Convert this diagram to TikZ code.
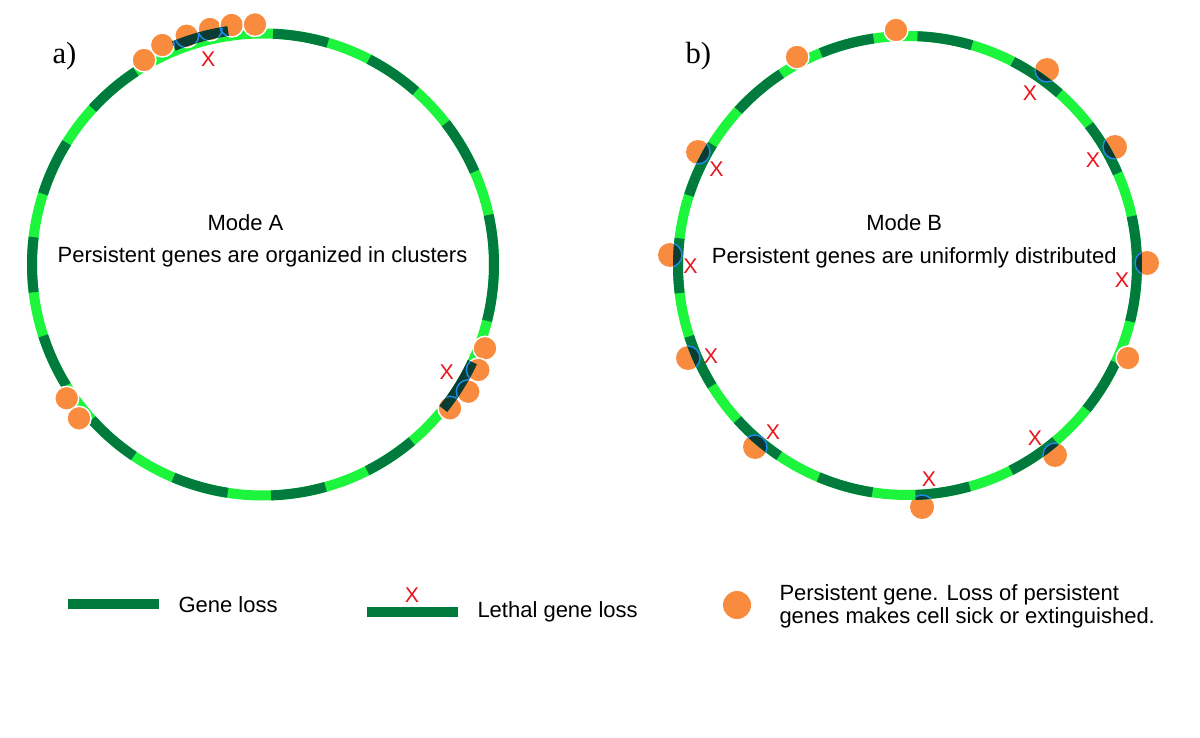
\documentclass[tikz,border=0pt]{standalone}
\usepackage{fontspec}
\setmainfont{Liberation Serif}
\setsansfont{Liberation Sans}
\usetikzlibrary{calc}

\definecolor{ringlight}{RGB}{28,245,60}
\definecolor{lossgreen}{RGB}{0,122,61}
\definecolor{geneorange}{RGB}{249,139,62}
\definecolor{lethaldark}{RGB}{10,60,50}
\definecolor{geneblue}{RGB}{30,140,230}
\definecolor{xred}{RGB}{232,20,28}

\tikzset{every picture/.style={line width=0.75pt}}
\tikzset{
  ringbase/.style={color=ringlight, line width=7.5},
  lossarc/.style={color=lossgreen, line width=7.5},
  lethalbar/.style={color=lethaldark, line width=7.5},
  genetop/.style={draw=white, fill=geneorange, line width=1.1},
  geneunder/.style={fill=geneorange},
  geneoverlap/.style={fill=lethaldark, draw=geneblue, line width=1.1},
  geneedge/.style={draw=geneblue, line width=1.1},
  txt/.style={font=\sffamily\fontsize{16.5}{19.8}\selectfont, inner sep=0pt},
  xmark/.style={text=xred, font=\sffamily\fontsize{16}{19}\selectfont, inner sep=0pt},
}

\begin{document}
\begin{tikzpicture}[x=0.75pt,y=0.75pt,yscale=-1,xscale=1]
%set diagram left start at 0, and has height of 738
\useasboundingbox (0,0) rectangle (1200,738);

\coordinate (ca) at (263,264.5);
\coordinate (cb) at (907.5,265.5);

%%%%%%%%%%%%%%%%%% a) Mode A
%Ring [id:ringA]
\draw [ringbase] (ca) circle (231);
%Arc (gene loss)
\draw [lossarc] (ca) ++(-73.7:231) arc [start angle=-73.7, end angle=-87.5, radius=231];
\draw [lossarc] (ca) ++(-48.6:231) arc [start angle=-48.6, end angle=-62.7, radius=231];
\draw [lossarc] (ca) ++(-23.7:231) arc [start angle=-23.7, end angle=-37.7, radius=231];
\draw [lossarc] (ca) ++(14.1:231) arc [start angle=14.1, end angle=-12.4, radius=231];
\draw [lossarc] (ca) ++(63.2:231) arc [start angle=63.2, end angle=49.9, radius=231];
\draw [lossarc] (ca) ++(88:231) arc [start angle=88, end angle=74.3, radius=231];
\draw [lossarc] (ca) ++(112.8:231) arc [start angle=112.8, end angle=98.8, radius=231];
\draw [lossarc] (ca) ++(137.8:231) arc [start angle=137.8, end angle=124, radius=231];
\draw [lossarc] (ca) ++(162:231) arc [start angle=162, end angle=148.4, radius=231];
\draw [lossarc] (ca) ++(-173.2:231) arc [start angle=-173.2, end angle=-186.9, radius=231];
\draw [lossarc] (ca) ++(-148.2:231) arc [start angle=-148.2, end angle=-162.2, radius=231];
\draw [lossarc] (ca) ++(-123.4:231) arc [start angle=-123.4, end angle=-137.5, radius=231];

%Circle (persistent genes, top cluster)
\draw [genetop] (144,60) circle (12);
\draw [genetop] (162.3,45) circle (12);
\draw [genetop] (186.7,35.7) circle (12);
\draw [genetop] (210,29) circle (12);
\draw [genetop] (231.7,25) circle (12);
\draw [genetop] (255,24.5) circle (12);
%Circle (persistent genes, right cluster)
\draw [genetop] (485,348.3) circle (12);
\draw [genetop] (478.3,370) circle (12);
\draw [genetop] (468.3,391.7) circle (12);
\draw [genetop] (450,408.3) circle (12);
%Circle (persistent genes, lower left)
\draw [genetop] (66.7,398.3) circle (12);
\draw [genetop] (79,418.3) circle (12);

%Arc (lethal gene loss)
\draw [lethalbar] (ca) ++(-98.5:236) arc [start angle=-98.5, end angle=-112.2, radius=236];
\draw [lethalbar] (ca) ++(25:231) arc [start angle=25, end angle=38.7, radius=231];
\begin{scope}
\clip ($(ca)+(-98.5:240.5)$) arc [start angle=-98.5, end angle=-112.2, radius=240.5] -- ($(ca)+(-112.2:231.5)$) arc [start angle=-112.2, end angle=-98.5, radius=231.5] -- cycle;
\draw [geneedge] (162.3,45) circle (12) (186.7,35.7) circle (12) (210,29) circle (12) (231.7,25) circle (12);
\end{scope}
\begin{scope}
\clip ($(ca)+(25:235.5)$) arc [start angle=25, end angle=38.7, radius=235.5] -- ($(ca)+(38.7:226.5)$) arc [start angle=38.7, end angle=25, radius=226.5] -- cycle;
\draw [geneedge] (485,348.3) circle (12) (478.3,370) circle (12) (468.3,391.7) circle (12) (450,408.3) circle (12);
\end{scope}

% Text Node
\node [xmark] (xa1) at (208.3,59) {X};
\node [xmark] (xa2) at (446.7,371.7) {X};
\node [anchor=base west, inner sep=0pt, font=\fontsize{23}{27}\selectfont] (panela) at (52,64) {a)};
\node [txt, anchor=base] (modea) at (245.5,230.7) {Mode A};
\node [txt, anchor=base] (capta) at (262.5,262.7) {Persistent genes are organized in clusters};

%%%%%%%%%%%%%%%%%% b) Mode B
%Circle (persistent genes under lethal loss)
\fill [geneunder] (1047,70) circle (12);
\fill [geneunder] (1115,147) circle (12);
\fill [geneunder] (1147,263) circle (12);
\fill [geneunder] (1055,455) circle (12);
\fill [geneunder] (922,507) circle (12);
\fill [geneunder] (755,447) circle (12);
\fill [geneunder] (688,358) circle (12);
\fill [geneunder] (670,255) circle (12);
\fill [geneunder] (698,152) circle (12);

%Ring [id:ringB]
\draw [ringbase] (cb) circle (229.5);
%Arc (gene loss)
\draw [lossarc] (cb) ++(-73.7:229.5) arc [start angle=-73.7, end angle=-87.5, radius=229.5];
\draw [lossarc] (cb) ++(-48.6:229.5) arc [start angle=-48.6, end angle=-62.7, radius=229.5];
\draw [lossarc] (cb) ++(-23.7:229.5) arc [start angle=-23.7, end angle=-37.7, radius=229.5];
\draw [lossarc] (cb) ++(14.1:229.5) arc [start angle=14.1, end angle=-12.4, radius=229.5];
\draw [lossarc] (cb) ++(38.7:229.5) arc [start angle=38.7, end angle=25, radius=229.5];
\draw [lossarc] (cb) ++(63.2:229.5) arc [start angle=63.2, end angle=49.9, radius=229.5];
\draw [lossarc] (cb) ++(88:229.5) arc [start angle=88, end angle=74.3, radius=229.5];
\draw [lossarc] (cb) ++(112.8:229.5) arc [start angle=112.8, end angle=98.8, radius=229.5];
\draw [lossarc] (cb) ++(137.8:229.5) arc [start angle=137.8, end angle=124, radius=229.5];
\draw [lossarc] (cb) ++(162:229.5) arc [start angle=162, end angle=148.4, radius=229.5];
\draw [lossarc] (cb) ++(-173.2:229.5) arc [start angle=-173.2, end angle=-186.9, radius=229.5];
\draw [lossarc] (cb) ++(-148.2:229.5) arc [start angle=-148.2, end angle=-162.2, radius=229.5];
\draw [lossarc] (cb) ++(-123.4:229.5) arc [start angle=-123.4, end angle=-137.5, radius=229.5];
\draw [lossarc] (cb) ++(-98.5:229.5) arc [start angle=-98.5, end angle=-112.2, radius=229.5];

%Overlap (lethal loss over persistent gene)
\begin{scope}
\clip ($(cb)+(-48.6:234.5)$) arc [start angle=-48.6, end angle=-62.7, radius=234.5] -- ($(cb)+(-62.7:224.5)$) arc [start angle=-62.7, end angle=-48.6, radius=224.5] -- cycle;
\filldraw [geneoverlap] (1047,70) circle (12);
\end{scope}
\begin{scope}
\clip ($(cb)+(-23.7:234.5)$) arc [start angle=-23.7, end angle=-37.7, radius=234.5] -- ($(cb)+(-37.7:224.5)$) arc [start angle=-37.7, end angle=-23.7, radius=224.5] -- cycle;
\filldraw [geneoverlap] (1115,147) circle (12);
\end{scope}
\begin{scope}
\clip ($(cb)+(14.1:234.5)$) arc [start angle=14.1, end angle=-12.4, radius=234.5] -- ($(cb)+(-12.4:224.5)$) arc [start angle=-12.4, end angle=14.1, radius=224.5] -- cycle;
\filldraw [geneoverlap] (1147,263) circle (12);
\end{scope}
\begin{scope}
\clip ($(cb)+(63.2:234.5)$) arc [start angle=63.2, end angle=49.9, radius=234.5] -- ($(cb)+(49.9:224.5)$) arc [start angle=49.9, end angle=63.2, radius=224.5] -- cycle;
\filldraw [geneoverlap] (1055,455) circle (12);
\end{scope}
\begin{scope}
\clip ($(cb)+(88:234.5)$) arc [start angle=88, end angle=74.3, radius=234.5] -- ($(cb)+(74.3:224.5)$) arc [start angle=74.3, end angle=88, radius=224.5] -- cycle;
\filldraw [geneoverlap] (922,507) circle (12);
\end{scope}
\begin{scope}
\clip ($(cb)+(137.8:234.5)$) arc [start angle=137.8, end angle=124, radius=234.5] -- ($(cb)+(124:224.5)$) arc [start angle=124, end angle=137.8, radius=224.5] -- cycle;
\filldraw [geneoverlap] (755,447) circle (12);
\end{scope}
\begin{scope}
\clip ($(cb)+(162:234.5)$) arc [start angle=162, end angle=148.4, radius=234.5] -- ($(cb)+(148.4:224.5)$) arc [start angle=148.4, end angle=162, radius=224.5] -- cycle;
\filldraw [geneoverlap] (688,358) circle (12);
\end{scope}
\begin{scope}
\clip ($(cb)+(-173.2:234.5)$) arc [start angle=-173.2, end angle=-186.9, radius=234.5] -- ($(cb)+(-186.9:224.5)$) arc [start angle=-186.9, end angle=-173.2, radius=224.5] -- cycle;
\filldraw [geneoverlap] (670,255) circle (12);
\end{scope}
\begin{scope}
\clip ($(cb)+(-148.2:234.5)$) arc [start angle=-148.2, end angle=-162.2, radius=234.5] -- ($(cb)+(-162.2:224.5)$) arc [start angle=-162.2, end angle=-148.2, radius=224.5] -- cycle;
\filldraw [geneoverlap] (698,152) circle (12);
\end{scope}

%Circle (persistent genes on the ring)
\draw [genetop] (896,30) circle (12);
\draw [genetop] (797,57) circle (12);
\draw [genetop] (1128,358) circle (12);

% Text Node
\node [xmark] (xb1) at (1030,93) {X};
\node [xmark] (xb2) at (1093,160) {X};
\node [xmark] (xb3) at (1122,280.5) {X};
\node [xmark] (xb4) at (1035,438) {X};
\node [xmark] (xb5) at (929,479) {X};
\node [xmark] (xb6) at (773,432) {X};
\node [xmark] (xb7) at (711,356.5) {X};
\node [xmark] (xb8) at (690.5,266) {X};
\node [xmark] (xb9) at (716.5,169.5) {X};
\node [anchor=base west, inner sep=0pt, font=\fontsize{23}{27}\selectfont] (panelb) at (685,64) {b)};
\node [txt, anchor=base] (modeb) at (904.2,230.7) {Mode B};
\node [txt, anchor=base] (captb) at (914.2,263.3) {Persistent genes are uniformly distributed};

%%%%%%%%%%%%%%%%%% legend
%Shape: Line (gene loss)
\draw [lossarc] (68,604) -- (159,604);
\node [txt, anchor=base west] (leggl) at (178,612) {Gene loss};
%Shape: Line (lethal gene loss)
\draw [lossarc] (367,612) -- (458,612);
\node [xmark] (legx) at (412,595) {X};
\node [txt, anchor=base west] (leglgl) at (477,617) {Lethal gene loss};
%Shape: Circle (persistent gene)
\fill [geneunder] (737,605) circle (14);
\node [txt, anchor=base west] (legpg1) at (779,600) {Persistent gene. Loss of persistent};
\node [txt, anchor=base west] (legpg2) at (779,623) {genes makes cell sick or extinguished.};

\end{tikzpicture}
\end{document}
